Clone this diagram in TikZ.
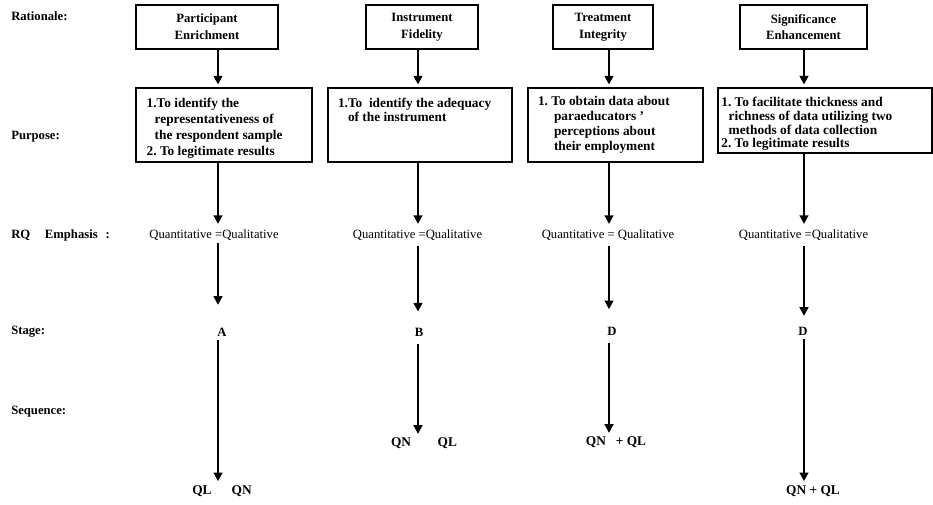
\documentclass[tikz,border=0pt]{standalone}
\usepackage{fontspec}
\setmainfont{Liberation Serif}
\usetikzlibrary{arrows.meta}
\begin{document}
\begin{tikzpicture}[x=0.75pt,y=-0.75pt,
 tbox/.style={draw, line width=1.2pt, inner sep=0pt, minimum height=33pt, align=center,
   font=\bfseries\fontsize{9.5}{12.5}\selectfont},
 pbox/.style={draw, line width=1.2pt, inner sep=0pt, font=\bfseries\fontsize{10}{11.5}\selectfont},
 lab/.style={anchor=west, inner sep=0pt, font=\bfseries\fontsize{9.5}{11}\selectfont},
 qq/.style={inner sep=1pt, font=\fontsize{9.5}{11}\selectfont},
 stg/.style={inner sep=1pt, font=\bfseries\fontsize{9.5}{11}\selectfont},
 seq/.style={inner sep=1pt, font=\bfseries\fontsize{10}{12}\selectfont},
 arr/.style={line width=2.2pt, -{Triangle[length=6.5pt,width=6.5pt]}},
]
\useasboundingbox[fill=white] (0,0) rectangle (933,505);

% column axes
\coordinate (c1) at (218,0);
\coordinate (c2) at (418,0);
\coordinate (c3) at (609,0);
\coordinate (c4) at (804,0);

% row labels
\node[lab] (lr)  at (11,16)  {Rationale:};
\node[lab] (lp)  at (11,137) {Purpose:};
\node[lab] (lq)  at (11,235) {RQ\hspace{11pt}Emphasis\hspace{6pt}:};
\node[lab] (ls)  at (11,332) {Stage:};
\node[lab] (lsq) at (11,412) {Sequence:};

% rationale boxes
\node[tbox, minimum width=106.5pt] (T1) at (207,27)   {Participant\\Enrichment};
\node[tbox, minimum width=84pt]    (T2) at (422,27)   {Instrument\\Fidelity};
\node[tbox, minimum width=75pt]    (T3) at (603,27)   {Treatment\\Integrity};
\node[tbox, minimum width=95.25pt] (T4) at (803.5,27) {Significance\\Enhancement};

% purpose boxes
\node[pbox] (P1) at (224,125) {\parbox[c][55.5pt][t]{132pt}{\raggedright
  \baselineskip=12pt
  \rule{0pt}{15pt}\hspace*{8pt}1.To identify the\\
  \hspace*{14pt}representativeness of\\
  \hspace*{14pt}the respondent sample\\
  \hspace*{8pt}2.\ To legitimate results\par}};
\node[pbox] (P2) at (420,125) {\parbox[c][55.5pt][t]{138pt}{\raggedright
  \baselineskip=10.5pt
  \rule{0pt}{15pt}\hspace*{7.5pt}1.To\ \ identify the adequacy\\
  \hspace*{15pt}of the instrument\par}};
\node[pbox] (P3) at (615.5,125) {\parbox[c][55.5pt][t]{131.25pt}{\raggedright
  \baselineskip=11.25pt
  \rule{0pt}{13.5pt}\hspace*{7.5pt}1.\ To obtain data about\\
  \hspace*{19.5pt}paraeducators '\\
  \hspace*{19.5pt}perceptions about\\
  \hspace*{19.5pt}their employment\par}};
\node[pbox] (P4) at (825,120.5) {\parbox[c][48.75pt][t]{160.5pt}{\raggedright
  \baselineskip=10.3pt
  \rule{0pt}{14pt}\hspace*{2.5pt}1.\ To facilitate thickness and\\
  \hspace*{8pt}richness of data utilizing two\\
  \hspace*{8pt}methods of data collection\\
  \hspace*{2.5pt}2.\ To legitimate results\par}};

% RQ emphasis
\node[qq] (Q1) at (214,235)   {Quantitative =Qualitative};
\node[qq] (Q2) at (417.5,235) {Quantitative =Qualitative};
\node[qq] (Q3) at (608,235)   {Quantitative = Qualitative};
\node[qq] (Q4) at (803.5,235) {Quantitative =Qualitative};

% stage
\node[stg] (S1) at (222,332) {A};
\node[stg] (S2) at (419,332) {B};
\node[stg] (S3) at (612,331) {D};
\node[stg] (S4) at (803,331) {D};

% sequence
\node[seq] (N1) at (222,491) {QL\hspace{15pt}QN};
\node[seq] (N2) at (424,443) {QN\hspace{20pt}QL};
\node[seq] (N3) at (616,442) {QN\hspace{5pt} + QL};
\node[seq] (N4) at (813,491) {QN + QL};

% arrows: rationale -> purpose
\draw[arr, shorten >=2pt] (T1.south -| c1) -- (P1.north -| c1);
\draw[arr, shorten >=2pt] (T2.south -| c2) -- (P2.north -| c2);
\draw[arr, shorten >=2pt] (T3.south -| c3) -- (P3.north -| c3);
\draw[arr, shorten >=2pt] (T4.south -| c4) -- (P4.north -| c4);

% purpose -> RQ emphasis
\draw[arr, shorten >=3pt] (P1.south -| c1) -- (Q1.north -| c1);
\draw[arr, shorten >=3pt] (P2.south -| c2) -- (Q2.north -| c2);
\draw[arr, shorten >=3pt] (P3.south -| c3) -- (Q3.north -| c3);
\draw[arr, shorten >=3pt] (P4.south -| c4) -- (Q4.north -| c4);

% RQ emphasis -> stage
\draw[arr, shorten <=1pt, shorten >=16pt] (Q1.south -| c1) -- (S1.north -| c1);
\draw[arr, shorten <=3pt, shorten >=11pt] (Q2.south -| c2) -- (S2.north -| c2);
\draw[arr, shorten <=3pt, shorten >=12pt] (Q3.south -| c3) -- (S3.north -| c3);
\draw[arr, shorten <=3pt, shorten >=7pt]  (Q4.south -| c4) -- (S4.north -| c4);

% stage -> sequence
\draw[arr, shorten <=2pt, shorten >=2pt] (S1.south -| c1) -- (N1.north -| c1);
\draw[arr, shorten <=5pt, shorten >=1.5pt] (S2.south -| c2) -- (N2.north -| c2);
\draw[arr, shorten <=5pt, shorten >=1.5pt] (S3.south -| c3) -- (N3.north -| c3);
\draw[arr, shorten <=2pt, shorten >=2pt] (S4.south -| c4) -- (N4.north -| c4);
\end{tikzpicture}
\end{document}
